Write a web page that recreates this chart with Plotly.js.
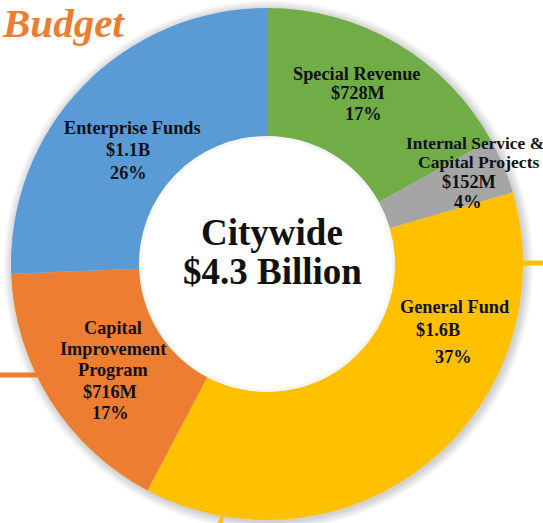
<!DOCTYPE html>
<html>
<head>
<meta charset="utf-8">
<script src="https://cdn.plot.ly/plotly-3.0.1.min.js"></script>
<style>html,body{margin:0;padding:0;background:#fff;}#chart{width:543px;height:523px;}</style>
</head>
<body>
<div id="chart"></div>
<script>
// ---- Data ----
const categories = ["Special Revenue", "Internal Service & Capital Projects", "General Fund", "Capital Improvement Program", "Enterprise Funds"];
const values = [728, 152, 1600, 716, 1100]; // $ millions
const amountLabels = ["$728M", "$152M", "$1.6B", "$716M", "$1.1B"];
const percentLabels = ["17%", "4%", "37%", "17%", "26%"];
const nameLines = [["Special Revenue"], ["Internal Service &", "Capital Projects"], ["General Fund"], ["Capital", "Improvement", "Program"], ["Enterprise Funds"]];
const centerLines = ["Citywide", "$4.3 Billion"];
const headerText = "Budget";

// ---- Styling / layout ----
const W = 543, H = 523;
const colors = ["#70AD47", "#A5A5A5", "#FFC000", "#ED7D31", "#5B9BD5"];
const cx = 267, cy = 264, R = 256, RH = 128;
const px = x => x / W;
const py = y => 1 - y / H;

// label line positions (pixel centers) per slice, per line, and size
const linePos = [
  [[356, 74], [358, 93], [363, 114]],
  [[475, 143, 17.4], [478, 162, 17.6], [469, 182], [467, 202]],
  [[454, 307], [438, 330], [453, 357]],
  [[113, 328], [113, 349], [113, 370], [110, 392], [110, 413]],
  [[132, 128], [128, 150], [128, 173]]
];

const annotations = [];
categories.forEach((c, i) => {
  const lines = nameLines[i].concat([amountLabels[i], percentLabels[i]]);
  lines.forEach((t, j) => {
    const p = linePos[i][j];
    annotations.push({
      x: px(p[0]), y: py(p[1]), xref: "paper", yref: "paper",
      text: "<b>" + t.replace("&", "&amp;") + "</b>", showarrow: false,
      xanchor: "center", yanchor: "middle",
      font: {family: "Liberation Serif, Times New Roman, serif", size: p[2] || 18.3, color: "#111"}
    });
  });
});
const centerPos = [[272, 232], [272, 271]];
centerLines.forEach((t, j) => {
  annotations.push({
    x: px(centerPos[j][0]), y: py(centerPos[j][1]), xref: "paper", yref: "paper",
    text: "<b>" + t + "</b>", showarrow: false, xanchor: "center", yanchor: "middle",
    font: {family: "Liberation Serif, Times New Roman, serif", size: 37, color: "#111"}
  });
});
annotations.push({
  x: px(0), y: py(23), xref: "paper", yref: "paper", text: "<b><i>" + headerText + "</i></b>",
  showarrow: false, xanchor: "left", yanchor: "middle",
  font: {family: "Liberation Serif, Times New Roman, serif", size: 41, color: "#ED7D31"}
});

// soft shadow around ring
const shapes = [];
for (let k = 1; k <= 9; k++) {
  const r = R + k, ox = cx + 1.5, oy = cy + 1.5;
  shapes.push({type: "circle", xref: "paper", yref: "paper", layer: "below",
    x0: px(ox - r), x1: px(ox + r), y0: py(oy + r), y1: py(oy - r),
    fillcolor: "rgba(0,0,0,0.018)", line: {width: 0}});
}
// keep the hole white
shapes.push({type: "circle", xref: "paper", yref: "paper", layer: "below",
  x0: px(cx - RH - 2), x1: px(cx + RH + 2), y0: py(cy + RH + 2), y1: py(cy - RH - 2),
  fillcolor: "#ffffff", line: {width: 0}});
// inner hole soft edge
shapes.push({type: "circle", xref: "paper", yref: "paper", layer: "above",
  x0: px(cx - RH + 1.5), x1: px(cx + RH - 1.5), y0: py(cy + RH - 1.5), y1: py(cy - RH + 1.5),
  fillcolor: "rgba(0,0,0,0)", line: {width: 3, color: "rgba(0,0,0,0.04)"}});
// decorative connector lines from the slide
shapes.push({type: "line", xref: "paper", yref: "paper", layer: "below", x0: px(0), x1: px(37), y0: py(375), y1: py(375), line: {color: "#ED7D31", width: 5}});
shapes.push({type: "line", xref: "paper", yref: "paper", layer: "below", x0: px(524), x1: px(545), y0: py(263), y1: py(263), line: {color: "#FFC000", width: 5}});
shapes.push({type: "line", xref: "paper", yref: "paper", layer: "below", x0: px(223), x1: px(219), y0: py(516), y1: py(525), line: {color: "#FFC000", width: 4}});

const trace = {
  type: "pie",
  labels: categories,
  values: values,
  sort: false,
  direction: "clockwise",
  rotation: 0,
  hole: RH / R,
  marker: {colors: colors, line: {width: 0}},
  textinfo: "none",
  hoverinfo: "none",
  showlegend: false,
  domain: {x: [px(cx - R), px(cx + R)], y: [py(cy + R), py(cy - R)]}
};

const layout = {
  width: W, height: H,
  margin: {l: 0, r: 0, t: 0, b: 0},
  paper_bgcolor: "#ffffff",
  plot_bgcolor: "#ffffff",
  showlegend: false,
  annotations: annotations,
  shapes: shapes
};

Plotly.newPlot("chart", [trace], layout, {displayModeBar: false, staticPlot: true});
</script>
</body>
</html>
